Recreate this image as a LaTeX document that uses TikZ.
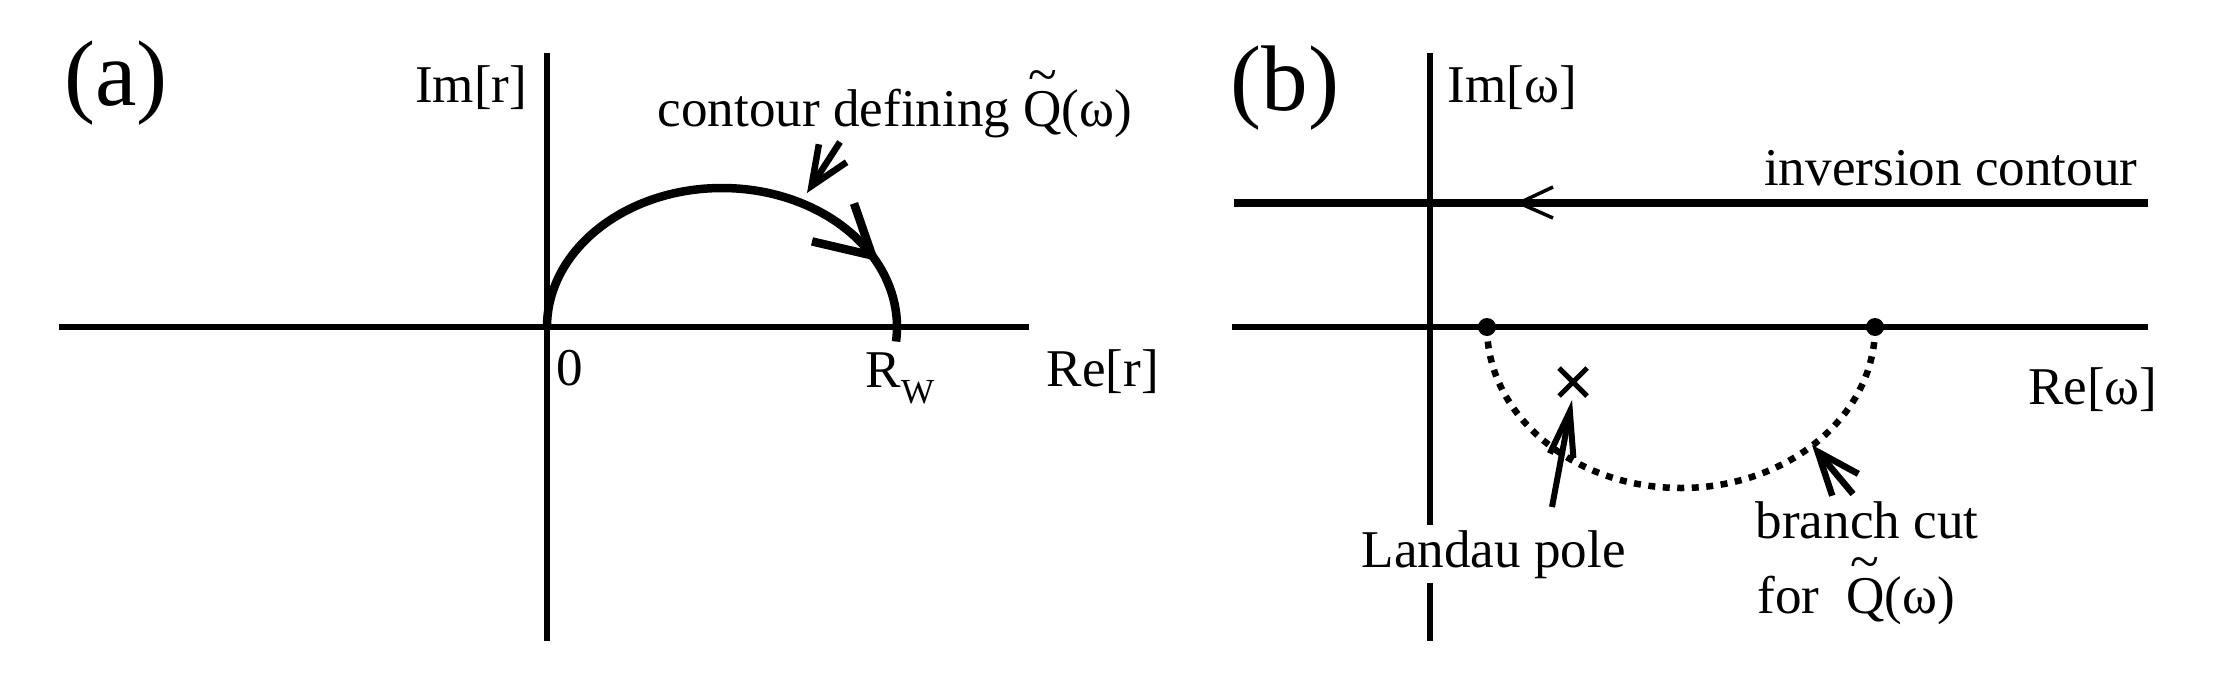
\documentclass[tikz,border=0pt]{standalone}
\usepackage{fontspec}
\setmainfont{Liberation Serif}
\usetikzlibrary{arrows.meta,calc}
\newcommand{\tQ}{\makebox[0pt][l]{\hspace{0.09em}\raisebox{0.64em}{\char"7E}}Q}
\begin{document}
\begin{tikzpicture}[x=0.01cm,y=0.01cm,
  axis/.style={line width=0.055cm},
  contour/.style={line width=0.085cm},
  cutline/.style={line width=0.065cm, dash pattern=on 0.07cm off 0.075cm},
  lbl/.style={inner sep=0pt, font=\fontsize{15.1pt}{18pt}\selectfont},
  panel/.style={inner sep=0pt, font=\fontsize{26.5pt}{30pt}\selectfont},
  pointerA/.style={line width=0.065cm, -{Straight Barb[length=0.39cm,width=0.33cm]}},
  pointerL/.style={line width=0.06cm, -{Straight Barb[length=0.45cm,width=0.24cm]}},
  pointerB/.style={line width=0.065cm, -{Straight Barb[length=0.43cm,width=0.34cm]}},
]
\useasboundingbox (0,0) rectangle (2216,696);
\fill[white] (0,0) rectangle (2216,696);

% ---------- panel (a) ----------
\coordinate (aTop) at (547,643);
\coordinate (aBot) at (547,55);
\coordinate (aLeft) at (59,369);
\coordinate (aRight) at (1029,369);
\coordinate (oA) at (547,369);
\coordinate (cA) at (722,369);
\draw[axis] (aTop) -- (aBot);
\draw[axis] (aLeft) -- (aRight);
\draw[contour] (oA) arc[start angle=180, end angle=-6, x radius=175, y radius=139];
\coordinate (tipA) at ($(cA)+(31:175 and 139)$);
\draw[contour, line join=miter] ($(tipA)+(-18,52)$) coordinate (armA1) -- (tipA) -- ($(tipA)+(-60,14)$) coordinate (armA2);
\coordinate (pAtail) at (840,554);
\coordinate (pAtip) at (807,503);
\draw[pointerA] (pAtail) -- (pAtip);

\node[panel, anchor=base] (la) at (116,591) {(a)};
\node[lbl, anchor=base east] (imr) at (528,594) {Im[r]};
\node[lbl, anchor=base west] (cdef) at (657,570) {contour defining \tQ(ω)};
\node[lbl, anchor=base west] (zero) at (556,311) {0};
\node[lbl, anchor=base west] (rw) at (865,309) {R\raisebox{-0.16cm}{\fontsize{10pt}{10pt}\selectfont W}};
\node[lbl, anchor=base west] (rer) at (1046,310) {Re[r]};

% ---------- panel (b) ----------
\coordinate (bTop) at (1430,643);
\coordinate (bBot) at (1430,55);
\coordinate (bLeft) at (1232,369);
\coordinate (bRight) at (2148,369);
\draw[axis] (bTop) -- (bBot);
\draw[axis] (bLeft) -- (bRight);

\coordinate (invR) at (2148,493);
\coordinate (invL) at (1234,493);
\coordinate (invTip) at (1519,493);
\draw[contour] (invR) -- (invL);
\draw[line width=0.035cm] (1553,509) coordinate (invArm1) -- (invTip) -- (1553,478) coordinate (invArm2);

\coordinate (bp1) at (1487,369);
\coordinate (bp2) at (1875,369);
\draw[cutline] (bp1) arc[start angle=180, end angle=360, x radius=194, y radius=161];
\fill (bp1) circle[radius=9];
\fill (bp2) circle[radius=9];

\coordinate (pole) at (1573,314);
\draw[line width=0.05cm] ($(pole)+(-14,-14)$) -- ($(pole)+(14,14)$);
\draw[line width=0.05cm] ($(pole)+(-14,14)$) -- ($(pole)+(14,-14)$);

\node[panel, anchor=base] (lb) at (1285,586) {(b)};
\node[lbl, anchor=base west] (imw) at (1447,594) {Im[ω]};
\node[lbl, anchor=base east] (inv) at (2138,511) {inversion contour};
\node[lbl, anchor=base east] (rew) at (2158,292) {Re[ω]};
\node[lbl, anchor=base west, fill=white, inner ysep=0.05cm] (landau) at (1361,129) {Landau pole};
\node[lbl, anchor=base west] (bc1) at (1755,158) {branch cut};
\node[lbl, anchor=base west] (bc2) at (1757,83) {for\hspace{0.5em}\tQ(ω)};

\coordinate (pLtail) at (1552,189);
\coordinate (pLtip) at (1572,296);
\draw[pointerL] (pLtail) -- (pLtip);
\coordinate (pBtail) at (1853,202);
\coordinate (pBtip) at (1812,251);
\draw[pointerB] (pBtail) -- (pBtip);
\end{tikzpicture}
\end{document}
